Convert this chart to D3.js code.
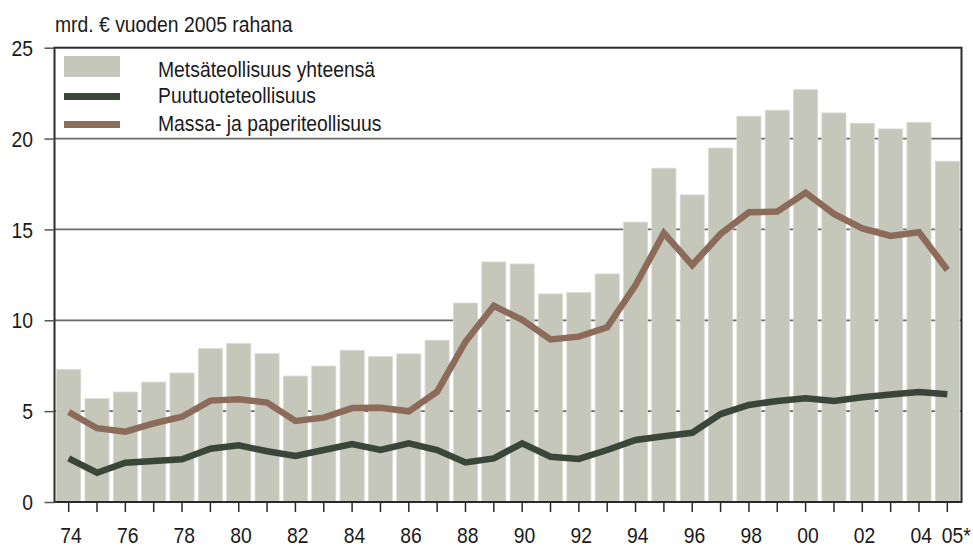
<!DOCTYPE html>
<html><head><meta charset="utf-8">
<script src="https://cdn.jsdelivr.net/npm/d3@7"></script>
<style>
html,body{margin:0;padding:0;background:#fff;}
text{font-family:"Liberation Sans",Arial,sans-serif;fill:#1a1a1a;}
</style></head>
<body>
<svg id="chart" width="973" height="548"></svg>
<script>
const years = ["74","75","76","77","78","79","80","81","82","83","84","85","86","87","88","89","90","91","92","93","94","95","96","97","98","99","00","01","02","03","04","05*"];
const tickLabels = ["74","76","78","80","82","84","86","88","90","92","94","96","98","00","02","04","05*"];
const totalValues = [7.30,5.69,6.05,6.60,7.10,8.44,8.73,8.16,6.93,7.48,8.35,8.00,8.15,8.90,10.95,13.21,13.10,11.45,11.52,12.55,15.40,18.37,16.90,19.48,21.23,21.56,22.69,21.41,20.84,20.53,20.88,18.75];
const woodValues = [2.40,1.61,2.16,2.26,2.35,2.93,3.12,2.79,2.53,2.86,3.19,2.86,3.23,2.86,2.18,2.40,3.23,2.49,2.37,2.86,3.41,3.62,3.81,4.84,5.34,5.56,5.71,5.56,5.76,5.91,6.05,5.93];
const paperValues = [4.95,4.06,3.87,4.33,4.69,5.58,5.65,5.47,4.46,4.64,5.17,5.19,4.99,6.07,8.82,10.80,10.02,8.95,9.10,9.61,11.94,14.80,13.04,14.75,15.94,15.98,17.02,15.85,15.06,14.64,14.84,12.77];
const yTicks = [0,5,10,15,20,25];
const seriesNames = ["Metsäteollisuus yhteensä","Puutuoteteollisuus","Massa- ja paperiteollisuus"];
const colors = {bar:"#c4c7ba", wood:"#3a4639", paper:"#8c6b5a"};

(function(){
const svg = d3.select("#chart");
const mLeft = 54.5, mRight = 961.5, mTop = 47.7, mBottom = 502;
const FS = 22.5, SX = 0.86;

function addText(g, px, py, str, anchor){
  return g.append("text")
    .attr("transform", `translate(${px},${py}) scale(${SX},1)`)
    .attr("font-size", FS).attr("text-anchor", anchor || "start").text(str);
}

const x = d3.scaleBand().domain(years).range([mLeft, mRight]).paddingInner(0.15).paddingOuter(0.075);
const y = d3.scaleLinear().domain([0,25]).range([mBottom, mTop]);

// gridlines
svg.append("g").selectAll("line").data(yTicks.filter(v=>v>0 && v<25)).join("line")
  .attr("x1", mLeft).attr("x2", mRight).attr("y1", d=>y(d)).attr("y2", d=>y(d))
  .attr("stroke","#6a6a6a").attr("stroke-width",1.8);

// bars
svg.append("g").selectAll("rect").data(years).join("rect")
  .attr("x", d=>x(d)).attr("width", x.bandwidth())
  .attr("y", (d,i)=>y(totalValues[i])).attr("height", (d,i)=>y(0)-y(totalValues[i]))
  .attr("fill", colors.bar).attr("stroke","#d9dbd2").attr("stroke-width",0.8);

// lines
const cx = d => x(d) + x.bandwidth()/2;
const lineGen = vals => d3.line().x((d,i)=>cx(years[i])).y(d=>y(d))(vals);
svg.append("path").attr("d", lineGen(woodValues)).attr("fill","none")
  .attr("stroke", colors.wood).attr("stroke-width",6.5).attr("stroke-linejoin","miter");
svg.append("path").attr("d", lineGen(paperValues)).attr("fill","none")
  .attr("stroke", colors.paper).attr("stroke-width",6.5).attr("stroke-linejoin","miter");

// frame
svg.append("rect").attr("x", mLeft).attr("y", mTop).attr("width", mRight-mLeft).attr("height", mBottom-mTop)
  .attr("fill","none").attr("stroke","#2a2a2a").attr("stroke-width",2);

// y axis
const yAxis = d3.axisLeft(y).tickValues(yTicks).tickSize(10).tickFormat("");
const gy = svg.append("g").attr("transform",`translate(${mLeft},0)`).call(yAxis);
gy.select(".domain").remove();
gy.selectAll(".tick line").attr("stroke","#555").attr("stroke-width",1.5);
const gyl = svg.append("g");
yTicks.forEach(v => addText(gyl, 33, y(v) + 8.2, String(v), "end"));

// x axis
const xAxis = d3.axisBottom(x).tickSize(10).tickFormat("");
const gx = svg.append("g").attr("transform",`translate(0,${mBottom})`).call(xAxis);
gx.select(".domain").remove();
gx.selectAll(".tick line").attr("stroke","#2a2a2a").attr("stroke-width",1.5);
const gxl = svg.append("g");
tickLabels.forEach(t => {
  if (t === "05*") addText(gxl, cx(t) - 5.5, 542.5, t, "start");
  else addText(gxl, cx(t) + 2.3, 542.5, t, "middle");
});

// title
addText(svg, 55, 31.5, "mrd. € vuoden 2005 rahana");

// legend
const lg = svg.append("g");
lg.append("rect").attr("x",64).attr("y",56).attr("width",56).attr("height",21).attr("fill",colors.bar);
lg.append("rect").attr("x",64).attr("y",93).attr("width",56).attr("height",7).attr("fill",colors.wood);
lg.append("rect").attr("x",64).attr("y",121).attr("width",56).attr("height",7).attr("fill",colors.paper);
[76.5,103,131].forEach((yy,i)=>{ addText(lg, 158, yy, seriesNames[i]); });
})();
</script>
</body></html>
